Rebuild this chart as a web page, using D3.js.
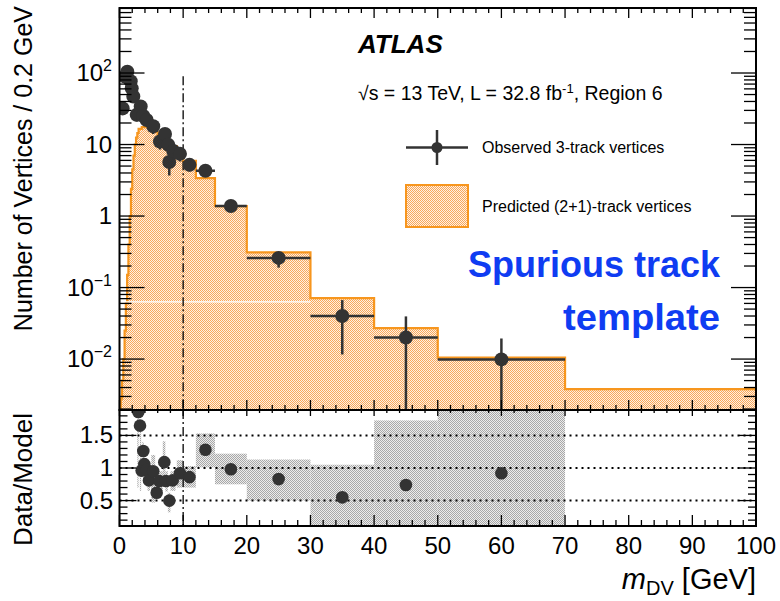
<!DOCTYPE html>
<html>
<head>
<meta charset="utf-8">
<script src="https://cdn.jsdelivr.net/npm/d3@7"></script>
<style>
  body{margin:0;background:#fff}
  svg text{font-family:"Liberation Sans",Arial,Helvetica,sans-serif;fill:#000}
</style>
</head>
<body>
<svg id="viz-svg" width="780" height="601"></svg>
<script>
// predicted (2+1)-track vertices, bin edges in GeV, content per 0.2 GeV
var binEdges = [0,0.2,0.4,0.6,0.8,1.0,1.2,1.4,1.6,1.8,2.0,2.2,2.4,2.6,2.8,3.0,3.5,4.0,4.5,5.0,5.5,6.0,6.5,7.0,7.5,8.0,8.5,9.0,10,12,15,20,30,40,50,70,100];
var predicted = [0.0019,0.0028,0.005,0.01,0.025,0.06,0.15,0.4,1.0,2.4,4.5,7,10,12.5,14.5,16.5,17.5,17.5,17,16,15,13.5,12.5,11.5,10.5,10,9.5,6.5,5.9,3.4,1.38,0.31,0.071,0.027,0.0105,0.0038];

// observed 3-track vertices
var obsMass  = [0.5,0.86,1.23,1.76,1.92,2.17,2.7,3.33,3.74,4.27,5.3,6.36,7.15,7.67,7.82,8.45,9.5,11,13.5,17.5,25,35,45,60];
var obsCount = [32,89,104,77,61,47,26,34,25,22,18,11,14,9.9,5.7,8.1,7.4,5.2,4.3,1.38,0.26,0.040,0.020,0.0099];
var obsBinLo = [0.4,0.76,1.13,1.66,1.82,2.07,2.6,3.23,3.64,4.17,5.2,6.26,7.05,7.57,7.72,8.35,9.4,10,12,15,20,30,40,50];
var obsBinHi = [0.6,0.96,1.33,1.86,2.02,2.27,2.8,3.43,3.84,4.37,5.4,6.46,7.25,7.77,7.92,8.55,9.6,12,15,20,30,40,50,70];
var obsErrLo = [27,80,94,69,54,41,21,29,20,18,14,8.5,11.5,7.8,3.7,6.2,5.8,4.2,3.6,1.2,0.19,0.0116,0.001,0.001];
var obsErrHi = [37,98,114,85,68,53,31,39,30,26,22,13.5,16.5,12,6.7,10,9,6.2,5,1.56,0.31,0.0668,0.0395,0.0194];

// data / model
var ratioMass = [2.96,3.22,3.48,3.74,3.9,4.27,4.63,5.3,5.84,6.25,7.04,7.3,7.83,8.36,9.5,11,13.5,17.5,25,35,45,60];
var ratioVal  = [1.86,1.65,0.96,1.26,1.06,0.97,0.81,0.95,0.62,0.80,1.09,0.80,0.50,0.81,0.92,0.86,1.28,0.98,0.83,0.55,0.74,0.92];

// grey uncertainty band in ratio panel
var bandLo  = [2.8,3.2,3.6,4.0,4.4,5.0,5.8,6.2,6.8,7.2,7.6,8.0,9.0,10,12,15,20,30,40,50];
var bandHi  = [3.0,3.4,3.8,4.4,4.8,5.6,6.2,6.8,7.2,7.6,8.0,8.8,10,12,15,20,30,40,50,70];
var bandMin = [0.70,0.65,0.85,0.75,0.65,0.47,0.55,0.64,0.87,0.64,0.32,0.65,0.70,0.70,1.01,0.75,0.50,0.0,0.0,0.0];
var bandMax = [1.85,1.60,1.40,1.15,1.00,1.20,0.90,0.95,1.41,0.95,0.62,0.95,1.12,1.03,1.53,1.22,1.13,1.05,1.73,2.0];

var xTicks = [0,10,20,30,40,50,60,70,80,90,100];
var yLabels = [{v:100,b:"10",e:"2"},{v:10,b:"10",e:""},{v:1,b:"1",e:""},{v:0.1,b:"10",e:"\u22121"},{v:0.01,b:"10",e:"\u22122"}];
var ratioTicks = [0.5,1,1.5];

var L = 119.5, R = 756, T = 8, MID = 410, B = 526;

var svg = d3.select("#viz-svg");
var x = d3.scaleLinear().domain([0,100]).range([L,R]);
var y = d3.scaleLog().domain([0.00194,811]).range([MID,T]).clamp(true);
var yr = d3.scaleLinear().domain([0.11,1.89]).range([B,MID]).clamp(true);

var defs = svg.append("defs");
function stipple(id, bg, fg){
  var p = defs.append("pattern").attr("id",id)
    .attr("width",2).attr("height",2).attr("patternUnits","userSpaceOnUse");
  p.append("rect").attr("width",2).attr("height",2).attr("fill",bg);
  p.append("rect").attr("width",1).attr("height",1).attr("fill",fg);
  p.append("rect").attr("x",1).attr("y",1).attr("width",1).attr("height",1).attr("fill",fg);
}
stipple("orangeFill","#fff0e2","#f8a85c");
stipple("greyFill","#ececec","#a8a8a8");

defs.append("clipPath").attr("id","clipMain").append("rect")
  .attr("x",L).attr("y",T).attr("width",R-L).attr("height",MID-T);
defs.append("clipPath").attr("id","clipRatio").append("rect")
  .attr("x",L).attr("y",MID).attr("width",R-L).attr("height",B-MID);

// ---- main panel
var main = svg.append("g").attr("clip-path","url(#clipMain)");

var histPts = [];
predicted.forEach(function(v,i){
  histPts.push([binEdges[i],v]);
  histPts.push([binEdges[i+1],v]);
});
main.append("path")
  .datum(histPts)
  .attr("fill","url(#orangeFill)")
  .attr("d", d3.area().x(function(d){return x(d[0])}).y0(MID).y1(function(d){return y(d[1])}));
main.append("path")
  .datum([[0,0.0001]].concat(histPts).concat([[100,0.0001]]))
  .attr("fill","none").attr("stroke","#f7961e").attr("stroke-width",2.2)
  .attr("d", d3.line().x(function(d){return x(d[0])}).y(function(d){return y(d[1])}));

// white line artefact crossing the fill
main.append("line")
  .attr("x1",x(0)).attr("x2",x(30)).attr("y1",y(0.063)).attr("y2",y(0.063))
  .attr("stroke","#fff").attr("stroke-width",1.2);

// dash-dot line at 10 GeV
main.append("line")
  .attr("x1",x(10)).attr("x2",x(10)).attr("y1",y(90)).attr("y2",MID)
  .attr("stroke","#000").attr("stroke-width",1.3).attr("stroke-dasharray","9,3,2,3");

var obs = main.selectAll("g.obs").data(obsMass).enter().append("g").attr("class","obs");
obs.append("line")
  .attr("x1",function(d,i){return x(obsBinLo[i])}).attr("x2",function(d,i){return x(obsBinHi[i])})
  .attr("y1",function(d,i){return y(obsCount[i])}).attr("y2",function(d,i){return y(obsCount[i])})
  .attr("stroke","#333").attr("stroke-width",2.5);
obs.append("line")
  .attr("x1",function(d){return x(d)}).attr("x2",function(d){return x(d)})
  .attr("y1",function(d,i){return y(obsErrLo[i])}).attr("y2",function(d,i){return y(obsErrHi[i])})
  .attr("stroke","#333").attr("stroke-width",2.5);
obs.append("circle")
  .attr("cx",function(d){return x(d)}).attr("cy",function(d,i){return y(obsCount[i])})
  .attr("r",7).attr("fill","#333");

// ---- ratio panel
var ratio = svg.append("g").attr("clip-path","url(#clipRatio)");
ratio.selectAll("rect.band").data(bandLo).enter().append("rect").attr("class","band")
  .attr("x",function(d){return x(d)})
  .attr("width",function(d,i){return x(bandHi[i])-x(d)})
  .attr("y",function(d,i){return yr(bandMax[i])})
  .attr("height",function(d,i){return yr(bandMin[i])-yr(bandMax[i])})
  .attr("fill","url(#greyFill)");
ratio.selectAll("line.ref").data(ratioTicks).enter().append("line").attr("class","ref")
  .attr("x1",L).attr("x2",R).attr("y1",function(d){return yr(d)}).attr("y2",function(d){return yr(d)})
  .attr("stroke","#000").attr("stroke-width",2).attr("stroke-dasharray","2,4");
ratio.append("line")
  .attr("x1",x(10)).attr("x2",x(10)).attr("y1",MID).attr("y2",B)
  .attr("stroke","#000").attr("stroke-width",1.3).attr("stroke-dasharray","9,3,2,3");
ratio.selectAll("circle").data(ratioMass).enter().append("circle")
  .attr("cx",function(d){return x(d)}).attr("cy",function(d,i){return yr(ratioVal[i])})
  .attr("r",6.3).attr("fill","#333");

// ---- frames and ticks (ROOT style, pointing inward)
var axes = svg.append("g").attr("stroke","#000");
function tick(x1,y1,x2,y2,w){
  axes.append("line").attr("x1",x1).attr("y1",y1).attr("x2",x2).attr("y2",y2).attr("stroke-width",w||1.3);
}
for (var m=0; m<=100; m+=2){
  var big = (m%10==0);
  tick(x(m),MID,x(m),MID-(big?10:5));
  tick(x(m),T,x(m),T+(big?10:5));
  tick(x(m),B,x(m),B-(big?11:6));
  tick(x(m),MID,x(m),MID+(big?6:3));
}
for (var k=-3; k<=2; k++){
  for (var j=1; j<10; j++){
    var v = j*Math.pow(10,k);
    if (v<0.00194 || v>811) continue;
    var len = (j==1)?25:12;
    tick(L,y(v),L+len,y(v));
    tick(R,y(v),R-len,y(v));
  }
}
for (var t=2; t<=18; t++){
  var rv = t/10, lenr = (t%5==0)?17:8;
  tick(L,yr(rv),L+lenr,yr(rv));
  tick(R,yr(rv),R-lenr,yr(rv));
}
axes.append("rect").attr("x",L).attr("y",T).attr("width",R-L).attr("height",MID-T)
  .attr("fill","none").attr("stroke-width",2);
axes.append("rect").attr("x",L).attr("y",MID).attr("width",R-L).attr("height",B-MID)
  .attr("fill","none").attr("stroke-width",2);

// ---- labels
var labels = svg.append("g");
yLabels.forEach(function(d){
  var t = labels.append("text").attr("x",112).attr("y",y(d.v)+8)
    .attr("text-anchor","end").style("font-size","24px");
  t.append("tspan").text(d.b);
  if (d.e) t.append("tspan").attr("dy",-10).style("font-size","16px").text(d.e);
});
labels.selectAll("text.rl").data(ratioTicks).enter().append("text").attr("class","rl")
  .attr("x",113).attr("y",function(d){return yr(d)+8})
  .attr("text-anchor","end").style("font-size","24px")
  .text(function(d){return d==1?"1":d.toFixed(1)});
labels.selectAll("text.xl").data(xTicks).enter().append("text").attr("class","xl")
  .attr("x",function(d){return x(d)}).attr("y",554)
  .attr("text-anchor","middle").style("font-size","24px")
  .text(function(d){return d});

var xt = labels.append("text").attr("x",R).attr("y",589).attr("text-anchor","end").style("font-size","29px");
xt.append("tspan").style("font-style","italic").text("m");
xt.append("tspan").attr("dy",6).style("font-size","20px").text("DV");
xt.append("tspan").attr("dy",-6).text(" [GeV]");

labels.append("text").attr("transform","translate(32,6) rotate(-90)")
  .attr("text-anchor","end").style("font-size","25px").text("Number of Vertices / 0.2 GeV");
labels.append("text").attr("transform","translate(32,413) rotate(-90)")
  .attr("text-anchor","end").style("font-size","26px").text("Data/Model");

labels.append("text").attr("x",358).attr("y",53)
  .style("font-size","26px").style("font-weight","bold").style("font-style","italic").text("ATLAS");
var lumi = labels.append("text").attr("x",358).attr("y",100).style("font-size","19.5px");
lumi.append("tspan").text("\u221As = 13 TeV, L = 32.8 fb");
lumi.append("tspan").attr("dy",-7).style("font-size","13px").text("-1");
lumi.append("tspan").attr("dy",7).text(", Region 6");

// legend
var leg = svg.append("g");
leg.append("line").attr("x1",406).attr("x2",468).attr("y1",147.5).attr("y2",147.5).attr("stroke","#333").attr("stroke-width",2.5);
leg.append("line").attr("x1",437).attr("x2",437).attr("y1",130).attr("y2",165).attr("stroke","#333").attr("stroke-width",2.5);
leg.append("circle").attr("cx",437).attr("cy",147.5).attr("r",5.5).attr("fill","#333");
leg.append("text").attr("x",482).attr("y",153).style("font-size","16px").text("Observed 3-track vertices");
leg.append("rect").attr("x",406).attr("y",185).attr("width",62).attr("height",42)
  .attr("fill","url(#orangeFill)").attr("stroke","#f7961e").attr("stroke-width",2);
leg.append("text").attr("x",482).attr("y",212).style("font-size","16px").text("Predicted (2+1)-track vertices");

// annotation
var note = svg.append("g").style("font-family","Lato, 'Open Sans', sans-serif").style("font-weight","bold");
note.append("text").attr("x",720).attr("y",277).attr("text-anchor","end")
  .attr("textLength",252).attr("lengthAdjust","spacingAndGlyphs")
  .style("font-size","36px").style("fill","#0f3cf2").text("Spurious track");
note.append("text").attr("x",720).attr("y",330).attr("text-anchor","end")
  .attr("textLength",157).attr("lengthAdjust","spacingAndGlyphs")
  .style("font-size","36px").style("fill","#0f3cf2").text("template");
</script>
</body>
</html>
